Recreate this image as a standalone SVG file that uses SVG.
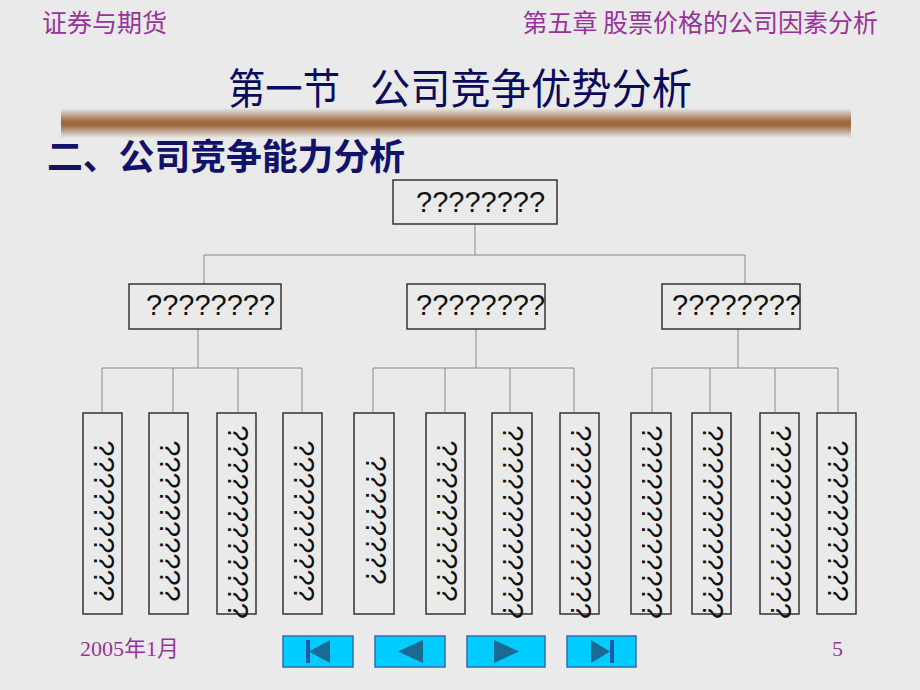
<svg xmlns="http://www.w3.org/2000/svg" width="920" height="690" viewBox="0 0 920 690">
<defs>
<linearGradient id="bar" x1="0" y1="0" x2="0" y2="1">
<stop offset="0" stop-color="#eaeaea"/>
<stop offset="0.45" stop-color="#9a6940"/>
<stop offset="0.58" stop-color="#9c6b42"/>
<stop offset="1" stop-color="#eaeaea"/>
</linearGradient>
<style>
.hdr{font-family:"Noto Sans CJK SC","Noto Sans",sans-serif;font-size:25px;fill:#993399}
.title{font-family:"Noto Sans CJK SC",sans-serif;font-size:42px;fill:#0a0a5e}
.sub{font-family:"Noto Sans CJK SC",sans-serif;font-size:36px;font-weight:bold;fill:#12126a}
.box{fill:none;stroke:#333;stroke-width:1.5}
.q{font-family:"Liberation Sans",Arial,sans-serif;font-size:29px;fill:#111}
.conn{stroke:#8a8a8a;stroke-width:1;fill:none}
.foot{font-family:"Liberation Serif","Noto Sans CJK SC",serif;font-size:22px;fill:#993399}
.btn{fill:#00ccff;stroke:#2f6cb8;stroke-width:1.5}
.ico{fill:#1a6a94}
.icb{fill:#1f5aa8}
</style>
</defs>
<rect width="920" height="690" fill="#eaeaea"/>

<text class="hdr" x="42" y="32">证券与期货</text>
<text class="hdr" x="878" y="32" text-anchor="end">第五章 股票价格的公司因素分析</text>
<text class="title" y="104"><tspan x="228" textLength="112" lengthAdjust="spacingAndGlyphs">第一节</tspan><tspan x="370" textLength="322" lengthAdjust="spacingAndGlyphs">公司竞争优势分析</tspan></text>
<rect x="61" y="108" width="790" height="30" fill="url(#bar)"/>
<text class="sub" x="47" y="170" textLength="358" lengthAdjust="spacingAndGlyphs">二、公司竞争能力分析</text>

<g id="connectors">
<path class="conn" d="M475 224V255M204 255H745M204 255V284M745 255V284"/>
<path class="conn" d="M198 329V368M102 368H302M102 368V413M173 368V413M238 368V413M302 368V413"/>
<path class="conn" d="M476 329V368M373 368H574M373 368V413M445 368V413M510 368V413M574 368V413"/>
<path class="conn" d="M738 329V368M652 368H838M652 368V413M710 368V413M775 368V413M838 368V413"/>
</g>

<g id="root"><rect class="box" x="393" y="180" width="164" height="44"/><text class="q" x="416" y="212">????????</text></g>
<g id="mid-left"><rect class="box" x="129" y="284" width="152" height="45"/><text class="q" x="146" y="315">????????</text></g>
<g id="mid-center"><rect class="box" x="407" y="284" width="138" height="45"/><text class="q" x="416" y="315">????????</text></g>
<g id="mid-right"><rect class="box" x="662" y="284" width="138" height="45"/><text class="q" x="672" y="315">????????</text></g>

<g id="leaf1"><rect class="box" x="83" y="413" width="39" height="201"/><text class="q" transform="translate(94 521) rotate(90)" text-anchor="middle">??????????</text></g>
<g id="leaf2"><rect class="box" x="149" y="413" width="39" height="201"/><text class="q" transform="translate(160 521) rotate(90)" text-anchor="middle">??????????</text></g>
<g id="leaf3"><rect class="box" x="217" y="413" width="39" height="201"/><text class="q" transform="translate(228 522) rotate(90)" text-anchor="middle">????????????</text></g>
<g id="leaf4"><rect class="box" x="283" y="413" width="39" height="201"/><text class="q" transform="translate(294 521) rotate(90)" text-anchor="middle">??????????</text></g>
<g id="leaf5"><rect class="box" x="354" y="413" width="40" height="201"/><text class="q" transform="translate(366 520) rotate(90)" text-anchor="middle">????????</text></g>
<g id="leaf6"><rect class="box" x="426" y="413" width="39" height="201"/><text class="q" transform="translate(437 521) rotate(90)" text-anchor="middle">??????????</text></g>
<g id="leaf7"><rect class="box" x="492" y="413" width="40" height="201"/><text class="q" transform="translate(503 522) rotate(90)" text-anchor="middle">????????????</text></g>
<g id="leaf8"><rect class="box" x="560" y="413" width="39" height="201"/><text class="q" transform="translate(571 522) rotate(90)" text-anchor="middle">????????????</text></g>
<g id="leaf9"><rect class="box" x="631" y="413" width="40" height="201"/><text class="q" transform="translate(642 522) rotate(90)" text-anchor="middle">????????????</text></g>
<g id="leaf10"><rect class="box" x="692" y="413" width="39" height="201"/><text class="q" transform="translate(703 522) rotate(90)" text-anchor="middle">????????????</text></g>
<g id="leaf11"><rect class="box" x="760" y="413" width="39" height="201"/><text class="q" transform="translate(771 522) rotate(90)" text-anchor="middle">????????????</text></g>
<g id="leaf12"><rect class="box" x="817" y="413" width="39" height="201"/><text class="q" transform="translate(828 521) rotate(90)" text-anchor="middle">??????????</text></g>

<text class="foot" x="80" y="656">2005年1月</text>
<text class="foot" x="832" y="656">5</text>

<g id="nav-first"><rect class="btn" x="283" y="636" width="70" height="31"/><rect class="icb" x="306" y="640" width="4" height="23"/><path class="ico" d="M309 651.5L330 640V663Z"/></g>
<g id="nav-prev"><rect class="btn" x="375" y="636" width="70" height="31"/><path class="ico" d="M398 651.5L423 640V663Z"/></g>
<g id="nav-next"><rect class="btn" x="467" y="636" width="78" height="31"/><path class="ico" d="M519 651.5L494 640V663Z"/></g>
<g id="nav-last"><rect class="btn" x="567" y="636" width="69" height="31"/><path class="ico" d="M610 651.5L591 640V663Z"/><rect class="icb" x="610" y="640" width="4" height="23"/></g>
</svg>
